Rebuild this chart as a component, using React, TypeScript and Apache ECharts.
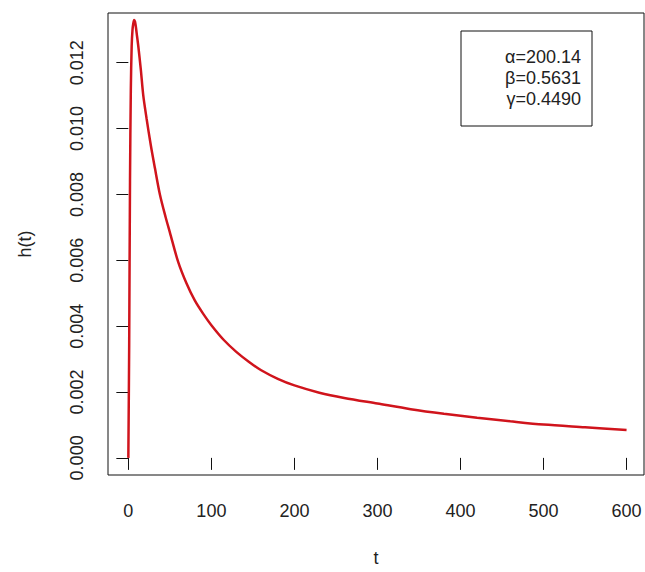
import React, { useEffect, useRef } from "react";
import * as echarts from "echarts";

const tValues = [0, 1, 2, 3, 4, 5, 6, 7, 8, 9, 10, 12, 15, 18, 22, 27, 32, 38, 45, 50, 60, 70, 80, 90, 100, 115, 130, 145, 160, 180, 200, 230, 260, 300, 340, 380, 420, 460, 500, 550, 600];
const hValues = [0, 0.0034, 0.0084, 0.0112, 0.0125, 0.013, 0.0132, 0.0133, 0.01325, 0.0131, 0.0129, 0.0125, 0.0118, 0.011, 0.0103, 0.0095, 0.0088, 0.008, 0.0073, 0.00685, 0.00595, 0.0053, 0.00478, 0.00438, 0.00403, 0.00358, 0.00322, 0.00292, 0.00266, 0.0024, 0.0022, 0.00198, 0.00182, 0.00165, 0.00148, 0.00134, 0.00122, 0.00111, 0.00101, 0.00093, 0.00085];
const xTicks = [0, 100, 200, 300, 400, 500, 600];
const yTicks = [0, 0.002, 0.004, 0.006, 0.008, 0.01, 0.012];
const legendLines = ["α=200.14", "β=0.5631", "γ=0.4490"];

const FONT = "'Liberation Sans', Arial, sans-serif";
const TXT = "#222";

export default function App() {
  const ref = useRef<HTMLDivElement>(null);
  useEffect(() => {
    if (!ref.current) return;
    const chart = echarts.init(ref.current, undefined, { renderer: "svg" });
    const data = tValues.map((t, i) => [t, hValues[i]]);
    chart.setOption({
      animation: false,
      backgroundColor: "#fff",
      grid: {
        left: 108,
        top: 13,
        right: 1,
        bottom: 93,
        show: true,
        borderColor: "#111",
        borderWidth: 1,
        backgroundColor: "transparent",
      },
      xAxis: {
        type: "value",
        min: -24.5,
        max: 621,
        name: "t",
        nameLocation: "middle",
        nameGap: 74,
        nameTextStyle: { fontSize: 18, color: TXT, fontFamily: FONT },
        axisLine: { show: false },
        splitLine: { show: false },
        axisTick: {
          show: true,
          length: 12,
          lineStyle: { color: "#111", width: 1 },
          customValues: xTicks,
        },
        axisLabel: {
          margin: 27,
          fontSize: 18,
          color: TXT,
          fontFamily: FONT,
          customValues: xTicks,
        },
      },
      yAxis: {
        type: "value",
        min: -0.00052,
        max: 0.01351,
        name: "h(t)",
        nameLocation: "middle",
        nameGap: 74,
        nameRotate: 90,
        nameTextStyle: { fontSize: 18, color: TXT, fontFamily: FONT },
        axisLine: { show: false },
        splitLine: { show: false },
        axisTick: {
          show: true,
          length: 12,
          lineStyle: { color: "#111", width: 1 },
          customValues: yTicks,
        },
        axisLabel: {
          margin: 22,
          rotate: 90,
          fontSize: 18,
          color: TXT,
          fontFamily: FONT,
          customValues: yTicks,
          formatter: (v: number) => v.toFixed(3),
        },
      },
      graphic: [
        {
          type: "rect",
          shape: { x: 461, y: 31, width: 131, height: 95 },
          style: { fill: "#fff", stroke: "#111", lineWidth: 1 },
          z: 10,
        },
        ...legendLines.map((s, i) => ({
          type: "text",
          x: 581,
          y: 57 + i * 20.8,
          z: 11,
          style: {
            text: s,
            fontSize: 18,
            fontFamily: FONT,
            fill: TXT,
            textAlign: "right",
            textVerticalAlign: "middle",
          },
        })),
      ],
      series: [
        {
          type: "line",
          data,
          showSymbol: false,
          smooth: 0.3,
          lineStyle: { color: "#d0141c", width: 2.5 },
          itemStyle: { color: "#d0141c" },
        },
      ],
    });
    return () => chart.dispose();
  }, []);
  return (
    <div
      ref={ref}
      style={{ position: "fixed", left: 0, top: 0, width: 645, height: 572 }}
    />
  );
}
